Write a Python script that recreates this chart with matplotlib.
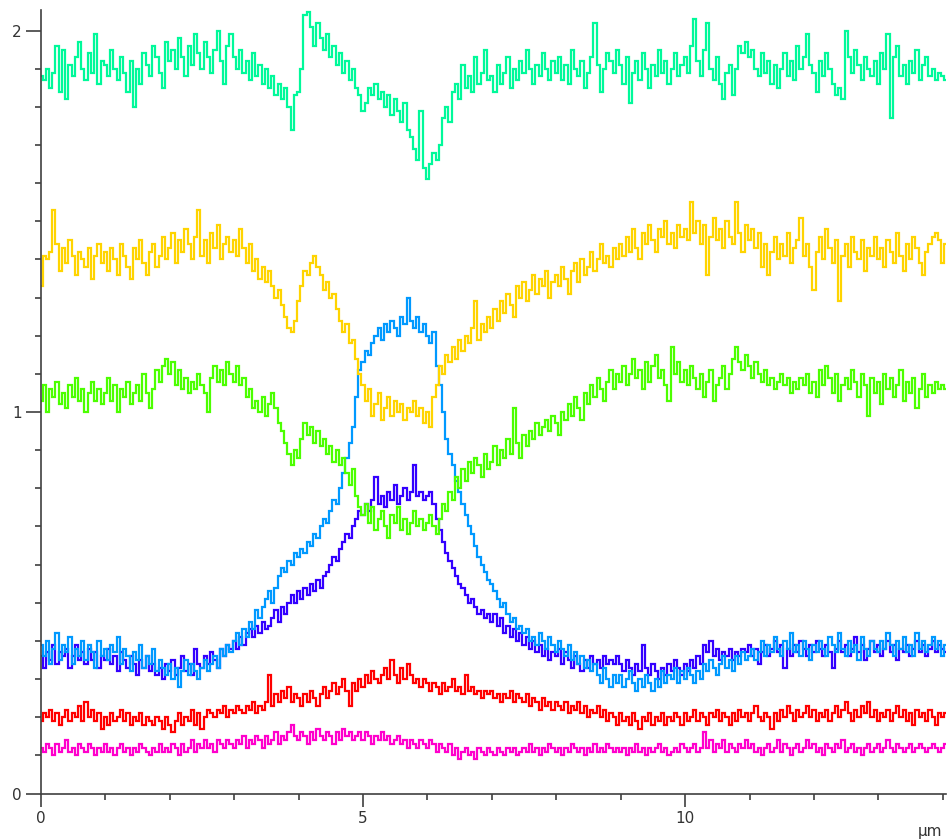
import numpy as np
import matplotlib
matplotlib.use("Agg")
import matplotlib.pyplot as plt
from matplotlib.ticker import MultipleLocator, FixedLocator

# profile sampling step along the scan (um)
step = 0.05

# top trace (spring green)
s1 = [1.88, 1.87, 1.90, 1.85, 1.89, 1.96, 1.84, 1.95, 1.82, 1.91, 1.88, 1.93, 1.97, 1.90, 1.87, 1.94, 1.89, 1.99, 1.86, 1.92,
      1.91, 1.88, 1.95, 1.90, 1.87, 1.93, 1.89, 1.84, 1.92, 1.80, 1.90, 1.86, 1.94, 1.91, 1.88, 1.96, 1.93, 1.89, 1.85, 1.97,
      1.92, 1.95, 1.90, 1.98, 1.93, 1.88, 1.96, 1.91, 1.99, 1.94, 1.90, 1.97, 1.93, 1.89, 1.95, 2.00, 1.92, 1.86, 1.96, 1.99,
      1.93, 1.90, 1.95, 1.89, 1.92, 1.87, 1.94, 1.88, 1.91, 1.86, 1.90, 1.85, 1.88, 1.83, 1.86, 1.82, 1.85, 1.80, 1.74, 1.83,
      1.84, 1.90, 2.04, 2.05, 2.01, 1.96, 2.02, 1.98, 1.95, 1.99, 1.93, 1.96, 1.91, 1.94, 1.89, 1.92, 1.87, 1.90, 1.85, 1.83,
      1.79, 1.81, 1.85, 1.83, 1.86, 1.82, 1.84, 1.80, 1.83, 1.78, 1.82, 1.79, 1.76, 1.81, 1.74, 1.72, 1.69, 1.66, 1.79, 1.64,
      1.61, 1.65, 1.68, 1.66, 1.70, 1.77, 1.80, 1.76, 1.84, 1.86, 1.82, 1.91, 1.85, 1.88, 1.84, 1.93, 1.86, 1.89, 1.95, 1.87,
      1.88, 1.84, 1.91, 1.86, 1.89, 1.93, 1.85, 1.90, 1.87, 1.92, 1.89, 1.95, 1.90, 1.86, 1.91, 1.88, 1.94, 1.90, 1.87, 1.92,
      1.89, 1.93, 1.87, 1.91, 1.86, 1.95, 1.90, 1.88, 1.92, 1.85, 1.89, 1.93, 2.02, 1.91, 1.84, 1.90, 1.94, 1.92, 1.89, 1.95,
      1.91, 1.86, 1.93, 1.81, 1.89, 1.92, 1.87, 1.94, 1.90, 1.85, 1.91, 1.88, 1.95, 1.89, 1.92, 1.86, 1.90, 1.94, 1.88, 1.91,
      1.93, 1.89, 1.96, 2.03, 1.92, 1.88, 1.95, 2.02, 1.90, 1.87, 1.93, 1.86, 1.82, 1.89, 1.91, 1.83, 1.90, 1.96, 1.94, 1.97,
      1.93, 1.95, 1.90, 1.88, 1.94, 1.89, 1.92, 1.86, 1.91, 1.85, 1.90, 1.94, 1.88, 1.92, 1.87, 1.96, 1.90, 1.93, 1.99, 1.91,
      1.89, 1.84, 1.92, 1.88, 1.94, 1.90, 1.86, 1.83, 1.85, 1.82, 2.00, 1.93, 1.89, 1.95, 1.91, 1.87, 1.93, 1.90, 1.88, 1.92,
      1.86, 1.94, 1.90, 1.99, 1.77, 1.93, 1.96, 1.88, 1.91, 1.86, 1.92, 1.89, 1.95, 1.87, 1.91, 1.93, 1.88, 1.90, 1.87, 1.89,
      1.88, 1.87]

# gold trace
s2 = [1.33, 1.41, 1.40, 1.42, 1.53, 1.44, 1.37, 1.43, 1.39, 1.45, 1.41, 1.36, 1.42, 1.40, 1.38, 1.43, 1.35, 1.41, 1.44, 1.39,
      1.42, 1.37, 1.43, 1.40, 1.36, 1.44, 1.41, 1.38, 1.35, 1.43, 1.40, 1.45, 1.39, 1.36, 1.42, 1.44, 1.38, 1.41, 1.46, 1.40,
      1.43, 1.47, 1.39, 1.45, 1.42, 1.48, 1.44, 1.40, 1.46, 1.53, 1.41, 1.45, 1.39, 1.47, 1.43, 1.49, 1.40, 1.44, 1.46, 1.42,
      1.45, 1.41, 1.48, 1.43, 1.39, 1.44, 1.37, 1.40, 1.35, 1.38, 1.34, 1.37, 1.33, 1.30, 1.32, 1.28, 1.25, 1.22, 1.21, 1.24,
      1.29, 1.33, 1.37, 1.36, 1.39, 1.41, 1.38, 1.36, 1.32, 1.34, 1.30, 1.31, 1.27, 1.24, 1.21, 1.23, 1.18, 1.19, 1.14, 1.10,
      1.07, 1.03, 1.06, 0.99, 1.02, 1.05, 0.98, 1.01, 1.04, 0.99, 1.03, 1.00, 1.02, 0.98, 1.01, 1.00, 1.03, 0.99, 1.01, 0.97,
      1.00, 0.96, 1.04, 1.07, 1.12, 1.10, 1.15, 1.13, 1.17, 1.14, 1.19, 1.16, 1.20, 1.18, 1.22, 1.29, 1.19, 1.23, 1.21, 1.25,
      1.22, 1.27, 1.24, 1.29, 1.26, 1.31, 1.28, 1.25, 1.33, 1.30, 1.34, 1.29, 1.32, 1.36, 1.31, 1.35, 1.33, 1.37, 1.30, 1.34,
      1.36, 1.33, 1.38, 1.35, 1.31, 1.37, 1.39, 1.34, 1.40, 1.36, 1.38, 1.42, 1.37, 1.40, 1.44, 1.39, 1.41, 1.38, 1.43, 1.40,
      1.44, 1.41, 1.46, 1.42, 1.48, 1.43, 1.40, 1.47, 1.44, 1.49, 1.45, 1.42, 1.48, 1.46, 1.50, 1.44, 1.47, 1.43, 1.49, 1.46,
      1.48, 1.45, 1.55, 1.47, 1.50, 1.44, 1.49, 1.36, 1.46, 1.51, 1.45, 1.48, 1.43, 1.50, 1.46, 1.44, 1.55, 1.47, 1.42, 1.49,
      1.45, 1.48, 1.43, 1.47, 1.38, 1.44, 1.36, 1.42, 1.46, 1.40, 1.44, 1.41, 1.47, 1.39, 1.43, 1.45, 1.51, 1.41, 1.44, 1.38,
      1.32, 1.42, 1.46, 1.40, 1.48, 1.43, 1.39, 1.45, 1.29, 1.41, 1.44, 1.38, 1.46, 1.42, 1.40, 1.45, 1.37, 1.43, 1.41, 1.46,
      1.40, 1.43, 1.38, 1.45, 1.42, 1.39, 1.47, 1.41, 1.37, 1.44, 1.40, 1.46, 1.43, 1.39, 1.36, 1.42, 1.44, 1.46, 1.47, 1.45,
      1.39, 1.44]

# bright green trace
s3 = [1.03, 1.07, 1.00, 1.06, 1.04, 1.08, 1.02, 1.05, 1.01, 1.07, 1.04, 1.09, 1.03, 1.06, 1.00, 1.05, 1.08, 1.03, 1.06, 1.02,
      1.05, 1.09, 1.03, 1.07, 1.00, 1.06, 1.04, 1.08, 1.02, 1.05, 1.07, 1.03, 1.10, 1.05, 1.01, 1.06, 1.11, 1.08, 1.12, 1.14,
      1.10, 1.13, 1.07, 1.11, 1.06, 1.09, 1.05, 1.08, 1.06, 1.10, 1.07, 1.05, 1.00, 1.09, 1.12, 1.08, 1.11, 1.07, 1.13, 1.10,
      1.08, 1.12, 1.07, 1.09, 1.04, 1.06, 1.01, 1.03, 1.00, 1.04, 0.99, 1.02, 1.05, 1.01, 0.97, 0.95, 0.92, 0.89, 0.86, 0.90,
      0.88, 0.93, 0.97, 0.94, 0.96, 0.92, 0.95, 0.91, 0.93, 0.89, 0.91, 0.87, 0.90, 0.86, 0.88, 0.84, 0.81, 0.85, 0.78, 0.75,
      0.73, 0.76, 0.71, 0.75, 0.69, 0.72, 0.74, 0.70, 0.67, 0.73, 0.71, 0.75, 0.69, 0.72, 0.68, 0.71, 0.74, 0.70, 0.72, 0.69,
      0.71, 0.73, 0.70, 0.68, 0.72, 0.76, 0.74, 0.79, 0.77, 0.83, 0.80, 0.85, 0.82, 0.87, 0.84, 0.88, 0.86, 0.83, 0.89, 0.85,
      0.87, 0.91, 0.86, 0.90, 0.88, 0.93, 0.89, 1.01, 0.92, 0.88, 0.94, 0.91, 0.95, 0.93, 0.97, 0.94, 0.96, 0.98, 0.95, 0.99,
      0.97, 0.94, 1.00, 0.98, 1.02, 0.99, 1.04, 1.01, 0.98, 1.05, 1.02, 1.07, 1.04, 1.09, 1.06, 1.03, 1.08, 1.11, 1.06, 1.10,
      1.08, 1.12, 1.07, 1.10, 1.14, 1.09, 1.11, 1.06, 1.13, 1.08, 1.12, 1.15, 1.09, 1.11, 1.07, 1.03, 1.17, 1.10, 1.13, 1.08,
      1.11, 1.07, 1.12, 1.09, 1.06, 1.10, 1.04, 1.08, 1.11, 1.03, 1.07, 1.09, 1.12, 1.06, 1.10, 1.14, 1.17, 1.13, 1.11, 1.15,
      1.12, 1.09, 1.13, 1.10, 1.08, 1.11, 1.07, 1.09, 1.06, 1.08, 1.10, 1.07, 1.09, 1.05, 1.08, 1.06, 1.09, 1.07, 1.10, 1.05,
      1.08, 1.04, 1.11, 1.07, 1.12, 1.09, 1.05, 1.10, 1.03, 1.07, 1.09, 1.06, 1.11, 1.08, 1.04, 1.10, 1.07, 0.99, 1.09, 1.05,
      1.08, 1.02, 1.10, 1.06, 1.09, 1.04, 1.07, 1.11, 1.03, 1.08, 1.05, 1.09, 1.01, 1.06, 1.10, 1.04, 1.07, 1.05, 1.08, 1.06,
      1.07, 1.06]

# light blue trace
s4 = [0.39, 0.36, 0.40, 0.34, 0.38, 0.42, 0.35, 0.39, 0.37, 0.41, 0.34, 0.38, 0.36, 0.40, 0.35, 0.39, 0.37, 0.33, 0.40, 0.36,
      0.38, 0.35, 0.39, 0.37, 0.41, 0.34, 0.38, 0.36, 0.32, 0.37, 0.35, 0.39, 0.33, 0.36, 0.34, 0.38, 0.32, 0.35, 0.33, 0.31,
      0.34, 0.30, 0.33, 0.28, 0.32, 0.35, 0.31, 0.34, 0.32, 0.30, 0.33, 0.35, 0.32, 0.34, 0.36, 0.33, 0.38, 0.36, 0.39, 0.37,
      0.40, 0.42, 0.39, 0.43, 0.41, 0.45, 0.43, 0.48, 0.46, 0.49, 0.51, 0.53, 0.50, 0.54, 0.57, 0.59, 0.58, 0.61, 0.60, 0.63,
      0.62, 0.64, 0.63, 0.66, 0.65, 0.68, 0.67, 0.70, 0.72, 0.71, 0.74, 0.77, 0.76, 0.80, 0.84, 0.88, 0.92, 0.96, 1.04, 1.11,
      1.13, 1.16, 1.15, 1.18, 1.20, 1.22, 1.19, 1.23, 1.21, 1.24, 1.22, 1.20, 1.25, 1.23, 1.30, 1.24, 1.22, 1.25, 1.21, 1.23,
      1.20, 1.18, 1.21, 1.12, 1.07, 1.00, 0.93, 0.89, 0.86, 0.82, 0.79, 0.76, 0.73, 0.70, 0.68, 0.65, 0.62, 0.60, 0.58, 0.56,
      0.55, 0.53, 0.51, 0.49, 0.50, 0.47, 0.45, 0.46, 0.43, 0.44, 0.42, 0.43, 0.40, 0.41, 0.39, 0.42, 0.40, 0.38, 0.41, 0.39,
      0.37, 0.40, 0.38, 0.36, 0.39, 0.35, 0.37, 0.34, 0.36, 0.33, 0.35, 0.32, 0.34, 0.31, 0.29, 0.33, 0.30, 0.28, 0.31, 0.29,
      0.31, 0.28, 0.30, 0.32, 0.29, 0.27, 0.30, 0.28, 0.31, 0.29, 0.27, 0.30, 0.28, 0.32, 0.29, 0.31, 0.30, 0.33, 0.29, 0.32,
      0.30, 0.33, 0.31, 0.29, 0.32, 0.30, 0.34, 0.32, 0.35, 0.33, 0.31, 0.34, 0.36, 0.33, 0.35, 0.32, 0.36, 0.34, 0.37, 0.35,
      0.36, 0.38, 0.35, 0.37, 0.40, 0.36, 0.39, 0.37, 0.41, 0.38, 0.36, 0.40, 0.38, 0.42, 0.37, 0.39, 0.36, 0.40, 0.38, 0.35,
      0.39, 0.37, 0.40, 0.38, 0.36, 0.41, 0.39, 0.37, 0.42, 0.38, 0.36, 0.40, 0.37, 0.39, 0.35, 0.41, 0.38, 0.36, 0.40, 0.38,
      0.37, 0.40, 0.38, 0.42, 0.39, 0.36, 0.40, 0.38, 0.41, 0.37, 0.39, 0.36, 0.42, 0.38, 0.40, 0.37, 0.39, 0.41, 0.38, 0.40,
      0.36, 0.39]

# violet trace
s5 = [0.36, 0.33, 0.37, 0.35, 0.39, 0.34, 0.37, 0.36, 0.38, 0.33, 0.36, 0.39, 0.35, 0.37, 0.34, 0.38, 0.35, 0.37, 0.33, 0.36,
      0.35, 0.38, 0.34, 0.36, 0.32, 0.37, 0.35, 0.33, 0.36, 0.34, 0.31, 0.35, 0.33, 0.36, 0.32, 0.34, 0.31, 0.33, 0.30, 0.34,
      0.32, 0.35, 0.31, 0.33, 0.36, 0.32, 0.34, 0.31, 0.38, 0.34, 0.33, 0.36, 0.34, 0.37, 0.35, 0.33, 0.38, 0.36, 0.39, 0.38,
      0.40, 0.38, 0.41, 0.39, 0.42, 0.43, 0.41, 0.44, 0.42, 0.45, 0.43, 0.44, 0.46, 0.48, 0.45, 0.49, 0.47, 0.50, 0.52, 0.50,
      0.53, 0.51, 0.54, 0.52, 0.55, 0.53, 0.56, 0.54, 0.57, 0.58, 0.60, 0.62, 0.61, 0.64, 0.66, 0.68, 0.67, 0.70, 0.72, 0.74,
      0.73, 0.76, 0.74, 0.77, 0.83, 0.76, 0.78, 0.75, 0.79, 0.77, 0.81, 0.76, 0.78, 0.80, 0.77, 0.79, 0.86, 0.78, 0.79, 0.77,
      0.78, 0.79, 0.76, 0.72, 0.69, 0.66, 0.63, 0.61, 0.59, 0.57, 0.55, 0.54, 0.52, 0.50, 0.51, 0.49, 0.47, 0.48, 0.46, 0.47,
      0.45, 0.47, 0.44, 0.46, 0.42, 0.44, 0.41, 0.43, 0.40, 0.42, 0.39, 0.41, 0.38, 0.40, 0.37, 0.39, 0.36, 0.38, 0.35, 0.37,
      0.36, 0.38, 0.34, 0.37, 0.35, 0.33, 0.36, 0.34, 0.32, 0.35, 0.33, 0.36, 0.34, 0.35, 0.33, 0.36, 0.34, 0.35, 0.34, 0.36,
      0.34, 0.32, 0.35, 0.33, 0.31, 0.34, 0.32, 0.39, 0.33, 0.31, 0.34, 0.32, 0.30, 0.33, 0.31, 0.34, 0.32, 0.35, 0.33, 0.31,
      0.34, 0.32, 0.35, 0.33, 0.36, 0.34, 0.39, 0.37, 0.40, 0.36, 0.38, 0.35, 0.37, 0.36, 0.38, 0.35, 0.37, 0.36, 0.38, 0.37,
      0.39, 0.36, 0.38, 0.34, 0.37, 0.39, 0.36, 0.38, 0.40, 0.37, 0.39, 0.33, 0.38, 0.36, 0.39, 0.37, 0.40, 0.38, 0.36, 0.39,
      0.37, 0.40, 0.38, 0.36, 0.39, 0.37, 0.33, 0.38, 0.40, 0.37, 0.39, 0.36, 0.38, 0.41, 0.37, 0.39, 0.35, 0.38, 0.40, 0.37,
      0.39, 0.36, 0.38, 0.40, 0.37, 0.39, 0.35, 0.38, 0.37, 0.39, 0.36, 0.38, 0.40, 0.37, 0.39, 0.36, 0.38, 0.40, 0.37, 0.39,
      0.38, 0.37]

# red trace
s6 = [0.19, 0.21, 0.20, 0.22, 0.19, 0.21, 0.18, 0.20, 0.22, 0.19, 0.21, 0.20, 0.23, 0.19, 0.24, 0.20, 0.22, 0.19, 0.21, 0.17,
      0.20, 0.18, 0.21, 0.19, 0.20, 0.22, 0.19, 0.21, 0.18, 0.20, 0.19, 0.21, 0.18, 0.20, 0.19, 0.18, 0.20, 0.19, 0.17, 0.20,
      0.18, 0.16, 0.19, 0.21, 0.18, 0.20, 0.19, 0.22, 0.18, 0.21, 0.17, 0.20, 0.22, 0.21, 0.20, 0.22, 0.21, 0.23, 0.20, 0.22,
      0.21, 0.23, 0.22, 0.21, 0.23, 0.22, 0.24, 0.21, 0.23, 0.22, 0.24, 0.31, 0.23, 0.26, 0.24, 0.27, 0.25, 0.28, 0.24, 0.26,
      0.25, 0.23, 0.26, 0.24, 0.27, 0.25, 0.23, 0.26, 0.28, 0.25, 0.27, 0.29, 0.26, 0.28, 0.30, 0.27, 0.23, 0.29, 0.27, 0.30,
      0.28, 0.31, 0.29, 0.32, 0.30, 0.29, 0.31, 0.33, 0.30, 0.35, 0.31, 0.29, 0.33, 0.30, 0.34, 0.31, 0.29, 0.30, 0.28, 0.30,
      0.29, 0.27, 0.29, 0.28, 0.26, 0.29, 0.27, 0.28, 0.30, 0.27, 0.28, 0.26, 0.31, 0.27, 0.28, 0.26, 0.27, 0.25, 0.27, 0.26,
      0.27, 0.25, 0.26, 0.24, 0.26, 0.25, 0.27, 0.24, 0.26, 0.25, 0.24, 0.26, 0.23, 0.25, 0.24, 0.22, 0.25, 0.23, 0.24, 0.22,
      0.24, 0.23, 0.22, 0.24, 0.21, 0.23, 0.22, 0.24, 0.21, 0.23, 0.20, 0.22, 0.21, 0.23, 0.20, 0.22, 0.19, 0.21, 0.20, 0.18,
      0.21, 0.19, 0.20, 0.18, 0.21, 0.19, 0.17, 0.20, 0.19, 0.21, 0.18, 0.20, 0.19, 0.21, 0.18, 0.20, 0.19, 0.21, 0.20, 0.18,
      0.21, 0.19, 0.20, 0.22, 0.19, 0.21, 0.20, 0.18, 0.21, 0.20, 0.22, 0.19, 0.21, 0.20, 0.18, 0.21, 0.19, 0.22, 0.20, 0.21,
      0.19, 0.21, 0.23, 0.20, 0.19, 0.21, 0.20, 0.17, 0.21, 0.19, 0.22, 0.20, 0.23, 0.21, 0.19, 0.22, 0.20, 0.21, 0.23, 0.20,
      0.22, 0.19, 0.21, 0.20, 0.22, 0.19, 0.21, 0.23, 0.20, 0.22, 0.24, 0.21, 0.19, 0.22, 0.20, 0.23, 0.21, 0.24, 0.20, 0.22,
      0.19, 0.21, 0.20, 0.22, 0.19, 0.21, 0.23, 0.20, 0.22, 0.19, 0.21, 0.18, 0.22, 0.20, 0.21, 0.19, 0.22, 0.20, 0.18, 0.21,
      0.20, 0.21]

# magenta trace
s7 = [0.12, 0.11, 0.13, 0.12, 0.10, 0.13, 0.11, 0.12, 0.14, 0.11, 0.12, 0.10, 0.13, 0.12, 0.11, 0.13, 0.12, 0.10, 0.12, 0.11,
      0.13, 0.11, 0.12, 0.10, 0.12, 0.13, 0.11, 0.12, 0.10, 0.12, 0.11, 0.13, 0.12, 0.11, 0.10, 0.12, 0.11, 0.13, 0.11, 0.12,
      0.11, 0.13, 0.12, 0.10, 0.13, 0.11, 0.12, 0.14, 0.11, 0.13, 0.12, 0.14, 0.12, 0.13, 0.11, 0.14, 0.13, 0.12, 0.14, 0.13,
      0.12, 0.14, 0.13, 0.15, 0.12, 0.14, 0.13, 0.15, 0.14, 0.12, 0.15, 0.13, 0.14, 0.16, 0.13, 0.15, 0.14, 0.16, 0.18, 0.15,
      0.14, 0.16, 0.15, 0.13, 0.16, 0.14, 0.17, 0.15, 0.14, 0.16, 0.15, 0.13, 0.16, 0.14, 0.17, 0.15, 0.16, 0.14, 0.15, 0.16,
      0.14, 0.16, 0.15, 0.13, 0.15, 0.14, 0.16, 0.14, 0.15, 0.13, 0.14, 0.15, 0.13, 0.14, 0.12, 0.14, 0.13, 0.12, 0.14, 0.13,
      0.12, 0.14, 0.13, 0.11, 0.13, 0.12, 0.11, 0.13, 0.10, 0.12, 0.09, 0.11, 0.12, 0.10, 0.11, 0.09, 0.12, 0.11, 0.10, 0.12,
      0.11, 0.10, 0.12, 0.11, 0.10, 0.12, 0.11, 0.12, 0.10, 0.11, 0.12, 0.11, 0.13, 0.11, 0.12, 0.10, 0.12, 0.11, 0.13, 0.12,
      0.11, 0.12, 0.10, 0.12, 0.11, 0.13, 0.12, 0.11, 0.12, 0.10, 0.12, 0.11, 0.13, 0.11, 0.12, 0.11, 0.13, 0.12, 0.11, 0.12,
      0.11, 0.12, 0.10, 0.12, 0.11, 0.13, 0.11, 0.12, 0.10, 0.12, 0.11, 0.12, 0.13, 0.11, 0.12, 0.10, 0.11, 0.12, 0.11, 0.13,
      0.12, 0.11, 0.12, 0.13, 0.11, 0.12, 0.16, 0.12, 0.14, 0.11, 0.13, 0.12, 0.14, 0.11, 0.13, 0.12, 0.11, 0.13, 0.12, 0.14,
      0.12, 0.13, 0.11, 0.12, 0.10, 0.12, 0.13, 0.11, 0.12, 0.14, 0.11, 0.13, 0.12, 0.10, 0.12, 0.13, 0.11, 0.12, 0.14, 0.12,
      0.13, 0.11, 0.12, 0.10, 0.13, 0.12, 0.11, 0.13, 0.12, 0.14, 0.11, 0.12, 0.13, 0.11, 0.12, 0.10, 0.12, 0.13, 0.11, 0.12,
      0.13, 0.11, 0.12, 0.14, 0.12, 0.11, 0.13, 0.12, 0.11, 0.12, 0.13, 0.11, 0.12, 0.13, 0.12, 0.11, 0.12, 0.13, 0.12, 0.11,
      0.12, 0.13]

# drawing order: bottom traces first
traces = [s7, s6, s5, s4, s3, s2, s1]
colors = ['#ff00cc', '#ff0000', '#3300ff', '#0099ff', '#4cff00', '#ffd400', '#00f99a']

x_major = [0, 5, 10]
x_labels = ['0', '5', '10']
y_major = [0, 1, 2]
y_labels = ['0', '1', '2']
axis_col = '#404040'

fig = plt.figure(figsize=(9.51, 8.40), dpi=100)
ax = fig.add_axes([41 / 951, 46.5 / 840, 905 / 951, 783.5 / 840])

for y, c in zip(traces, colors):
    xs = np.arange(len(y)) * step
    ax.step(xs, y, where='mid', color=c, lw=1.6, solid_joinstyle='miter')

ax.set_xlim(0, 14.05)
ax.set_ylim(0, 2.054)

for side in ['top', 'right']:
    ax.spines[side].set_visible(False)
for side in ['left', 'bottom']:
    ax.spines[side].set_color(axis_col)
    ax.spines[side].set_linewidth(1.2)

ax.xaxis.set_major_locator(FixedLocator(x_major))
ax.set_xticklabels(x_labels)
ax.xaxis.set_minor_locator(MultipleLocator(1))
ax.yaxis.set_major_locator(FixedLocator(y_major))
ax.set_yticklabels(y_labels)
ax.yaxis.set_minor_locator(MultipleLocator(0.1))

ax.tick_params(axis='x', which='major', length=9.5, width=1.2, color=axis_col,
               labelsize=11, labelcolor='#333333', pad=3)
ax.tick_params(axis='x', which='minor', length=4, width=1.2, color=axis_col)
ax.tick_params(axis='y', which='major', length=11, width=1.2, color=axis_col,
               labelsize=11, labelcolor='#333333', pad=3)
ax.tick_params(axis='y', which='minor', length=4.5, width=1.2, color=axis_col)

# unit label in the bottom-right corner
fig.text(918 / 951, 1 / 840, 'µm', fontsize=11, color='#333333',
         ha='left', va='bottom')

fig.savefig('out.png', dpi=100)
